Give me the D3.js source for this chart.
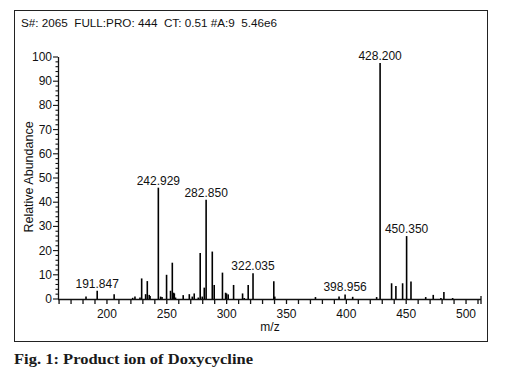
<!DOCTYPE html>
<html><head><meta charset="utf-8">
<script src="https://cdn.jsdelivr.net/npm/d3@7/dist/d3.min.js"></script>
<style>body{margin:0;background:#fff}svg{display:block}text{font-family:"Liberation Sans",Arial,sans-serif;fill:#111}</style>
</head><body>
<svg id="c" width="517" height="381"></svg>
<script>
const titleText = "S#: 2065  FULL:PRO: 444  CT: 0.51 #A:9  5.46e6";
const caption = "Fig. 1: Product ion of Doxycycline";
const xLabel = "m/z";
const yLabel = "Relative Abundance";
// peak m/z and relative abundance
const mz =  [182.5,191.847,206,221.5,223.4,227.6,229,232.3,233.7,235.3,236,242.929,244.8,246,249.8,253.1,254.6,255.7,256.3,257.3,263.7,268.8,271.3,272.9,276.3,277.9,279.6,281.3,282.85,288.0,289.6,296.5,299.1,299.9,301.3,305.8,313.3,314.7,318.0,322.035,339.4,340.2,374.2,393.9,398.956,405.3,425.3,428.2,437.8,441.4,447.0,450.35,454.0,466.3,472.6,479,481.5,488.8];
const abund=[1,3.4,2,0.5,1,0.6,8.5,2,7.4,1.7,1.2,46,1,0.8,10,3.4,15,2.6,2.3,0.6,1.6,2,1,2.3,0.6,19,1,4.7,41,19.6,5.8,10.9,2.6,2.3,1.9,5.8,2.3,0.4,5.8,10.6,7.3,1,0.8,1,1.9,0.9,0.8,97.5,6.5,5.4,6.5,26,7.2,0.8,1.7,0.4,2.9,0.4];
const labeled = ["191.847","242.929","282.850","322.035","398.956","428.200","450.350"];
const xTicks = d3.range(160, 511, 10);
const xTickLabels = [200,250,300,350,400,450,500];
const yMajor = d3.range(0, 101, 10);
const yMinor = d3.range(0, 101, 2);

const svg = d3.select("#c");
svg.append("rect").attr("x",14.5).attr("y",10.5).attr("width",473).attr("height",331)
  .attr("fill","none").attr("stroke","#222").attr("stroke-width",1);

svg.append("text").attr("x",21).attr("y",27).attr("font-size",11.7).style("white-space","pre").text(titleText);

const x = d3.scaleLinear().domain([159.1, 512.5]).range([58, 481]);
const y = d3.scaleLinear().domain([0, 100]).range([299, 57]);

const g = svg.append("g");
// x axis
g.append("line").attr("x1",x.range()[0]).attr("x2",x.range()[1]).attr("y1",y(0)+0.5).attr("y2",y(0)+0.5).attr("stroke","#111").attr("stroke-width",1.3);
g.selectAll(".xt").data(xTicks).join("line").attr("x1",d=>x(d)).attr("x2",d=>x(d))
  .attr("y1",y(0)).attr("y2",y(0)+5).attr("stroke","#111").attr("stroke-width",1.3);
g.append("line").attr("x1",x.range()[1]).attr("x2",x.range()[1]).attr("y1",y(0)-3).attr("y2",y(0)+5).attr("stroke","#111").attr("stroke-width",1.3);
g.selectAll(".xl").data(xTickLabels).join("text").attr("x",d=>x(d)).attr("y",y(0)+19)
  .attr("text-anchor","middle").attr("font-size",12).text(d=>d);
svg.append("text").attr("x",270).attr("y",331).attr("text-anchor","middle").attr("font-size",12).text(xLabel);

// y axis
g.append("line").attr("x1",58.5).attr("x2",58.5).attr("y1",y(100)).attr("y2",y(0)).attr("stroke","#111").attr("stroke-width",1.3);
g.selectAll(".ym").data(yMinor).join("line").attr("x1",58).attr("x2",d=>d%10===0?53:55.5)
  .attr("y1",d=>y(d)).attr("y2",d=>y(d)).attr("stroke","#111").attr("stroke-width",1.1);
g.selectAll(".yl").data(yMajor).join("text").attr("x",52).attr("y",d=>y(d)+4)
  .attr("text-anchor","end").attr("font-size",12).text(d=>d);
svg.append("text").attr("transform","translate(33,177) rotate(-90)").attr("text-anchor","middle").attr("font-size",12.5).text(yLabel);

// peaks
const peaks = mz.map((m,i)=>({m, v:abund[i]}));
g.selectAll(".pk").data(peaks).join("line")
  .attr("x1",d=>x(d.m)).attr("x2",d=>x(d.m)).attr("y1",y(0)).attr("y2",d=>y(d.v))
  .attr("stroke","#000").attr("stroke-width",1.6);
g.selectAll(".pl").data(peaks.filter(d=>labeled.includes(d.m.toFixed(3)))).join("text")
  .attr("x",d=>x(d.m)).attr("y",d=>y(d.v)-3).attr("text-anchor","middle").attr("font-size",12)
  .text(d=>d.m.toFixed(3));

svg.append("text").attr("x",14).attr("y",364).attr("font-size",15).attr("font-weight","bold")
  .attr("textLength",239).attr("lengthAdjust","spacingAndGlyphs")
  .style("font-family","'Liberation Serif','DejaVu Serif',serif").style("fill","#1a1a1a").text(caption);
</script>
</body></html>
